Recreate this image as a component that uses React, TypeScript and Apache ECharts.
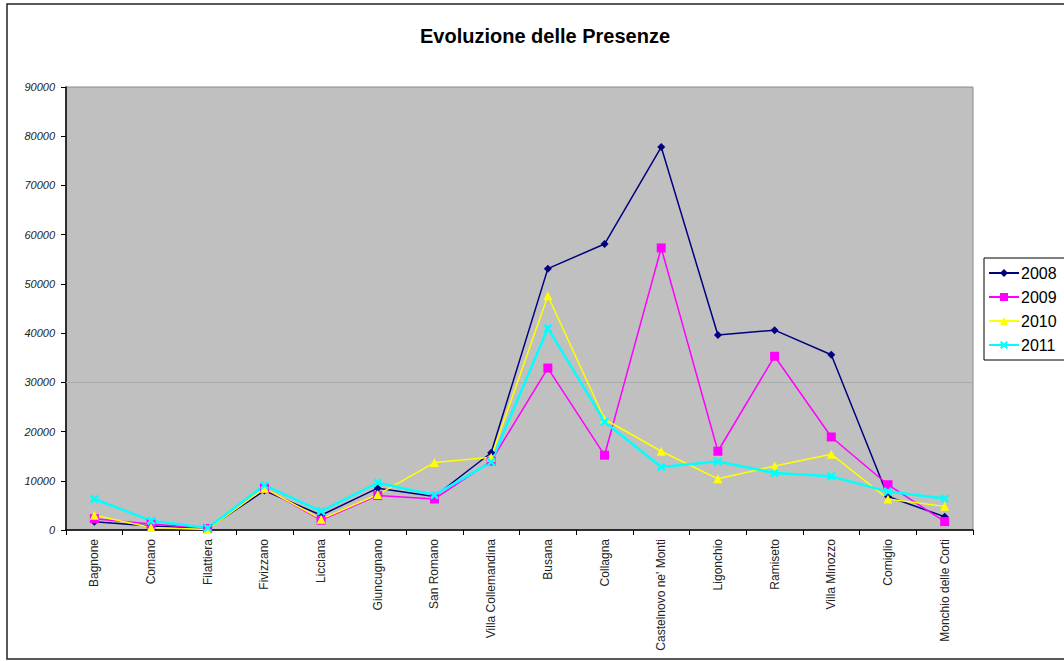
import React, { useEffect, useRef } from "react";
import * as echarts from "echarts";

const categories = [
  "Bagnone", "Comano", "Filattiera", "Fivizzano", "Licciana", "Giuncugnano",
  "San Romano", "Villa Collemandina", "Busana", "Collagna", "Castelnovo ne' Monti",
  "Ligonchio", "Ramiseto", "Villa Minozzo", "Comiglio", "Monchio delle Corti",
];
const seriesNames = ["2008", "2009", "2010", "2011"];
const values2008 = [1700, 800, 300, 8000, 3000, 8500, 6800, 15700, 53100, 58100, 77800, 39600, 40600, 35600, 6800, 2700];
const values2009 = [2300, 1200, 300, 8500, 2000, 7000, 6300, 14000, 32900, 15200, 57300, 16000, 35300, 18900, 9200, 1700];
const values2010 = [3000, 500, 100, 8500, 2200, 7200, 13700, 14800, 47600, 22500, 16000, 10400, 13000, 15400, 6300, 4800];
const values2011 = [6300, 1900, 400, 9100, 3800, 9600, 7100, 13800, 41000, 22000, 12800, 13900, 11600, 10900, 7800, 6400];
const yTicks = { min: 0, max: 90000, interval: 10000 };

const crossPath =
  "path://M0,2 L2,0 L5,3 L8,0 L10,2 L7,5 L10,8 L8,10 L5,7 L2,10 L0,8 L3,5 Z";

export default function App() {
  const ref = useRef<HTMLDivElement>(null);
  useEffect(() => {
    if (!ref.current) return;
    const chart = echarts.init(ref.current, null, { renderer: "svg" });
    const font = "'Liberation Sans', Arial, sans-serif";
    const mk = (name: string, data: number[], color: string, symbol: string, size: number, width: number, extra: any = {}) => ({
      name,
      type: "line",
      data,
      symbol,
      symbolSize: size,
      showSymbol: true,
      lineStyle: { color, width },
      itemStyle: { color, borderColor: color, borderWidth: 0 },
      z: 3,
      ...extra,
    });
    chart.setOption({
      animation: false,
      backgroundColor: "#ffffff",
      textStyle: { fontFamily: font },
      title: {
        text: "Evoluzione delle Presenze",
        left: 540,
        textAlign: "center",
        top: 21,
        textStyle: { fontSize: 20, fontWeight: "bold", color: "#000", fontFamily: font },
      },
      graphic: [
        {
          type: "rect",
          shape: { x: 7, y: 4, width: 1070, height: 655 },
          style: { fill: "none", stroke: "#222", lineWidth: 1.5 },
          silent: true,
          z: 0,
        },
      ],
      legend: {
        orient: "vertical",
        left: 984,
        top: 258,
        data: seriesNames,
        itemWidth: 30,
        itemHeight: 10,
        itemGap: 8,
        padding: [7, 40, 7, 4],
        borderColor: "#000",
        borderWidth: 1,
        backgroundColor: "#fff",
        textStyle: { fontSize: 16, color: "#000", fontFamily: font, padding: [0, 0, 0, -3] },
      },
      grid: {
        left: 66,
        top: 87,
        width: 907,
        height: 443,
        show: true,
        backgroundColor: "#c0c0c0",
        borderColor: "#8a8a8a",
        borderWidth: 1,
      },
      xAxis: {
        type: "category",
        data: categories,
        boundaryGap: true,
        axisLine: { show: true, lineStyle: { color: "#000", width: 1.5 } },
        axisTick: { show: true, alignWithLabel: false, length: 5, lineStyle: { color: "#000" } },
        axisLabel: { rotate: 90, fontSize: 12, color: "#222", margin: 9, interval: 0, fontFamily: font },
        splitLine: { show: false },
      },
      yAxis: {
        type: "value",
        min: yTicks.min,
        max: yTicks.max,
        interval: yTicks.interval,
        axisLine: { show: true, lineStyle: { color: "#000", width: 1.5 } },
        axisTick: { show: true, length: 5, lineStyle: { color: "#000" } },
        axisLabel: {
          fontSize: 11,
          fontStyle: "italic",
          color: "#222",
          margin: 11,
          fontFamily: font,
          formatter: (v: number) => String(v),
        },
        splitLine: { show: false },
      },
      series: [
        mk("2008", values2008, "#000080", "diamond", 8, 1.5, {
          markLine: {
            silent: true,
            symbol: "none",
            label: { show: false },
            lineStyle: { color: "#aaaaaa", width: 1, type: "solid" },
            data: [{ yAxis: 30000 }],
            z: 1,
          },
        }),
        mk("2009", values2009, "#ff00ff", "rect", 9, 1.5),
        mk("2010", values2010, "#ffff00", "triangle", 9, 1.5),
        mk("2011", values2011, "#00ffff", crossPath, 9, 2.5),
      ],
    });
    return () => chart.dispose();
  }, []);
  return (
    <div
      ref={ref}
      style={{ position: "absolute", left: 0, top: 0, width: 1064, height: 661 }}
    />
  );
}
